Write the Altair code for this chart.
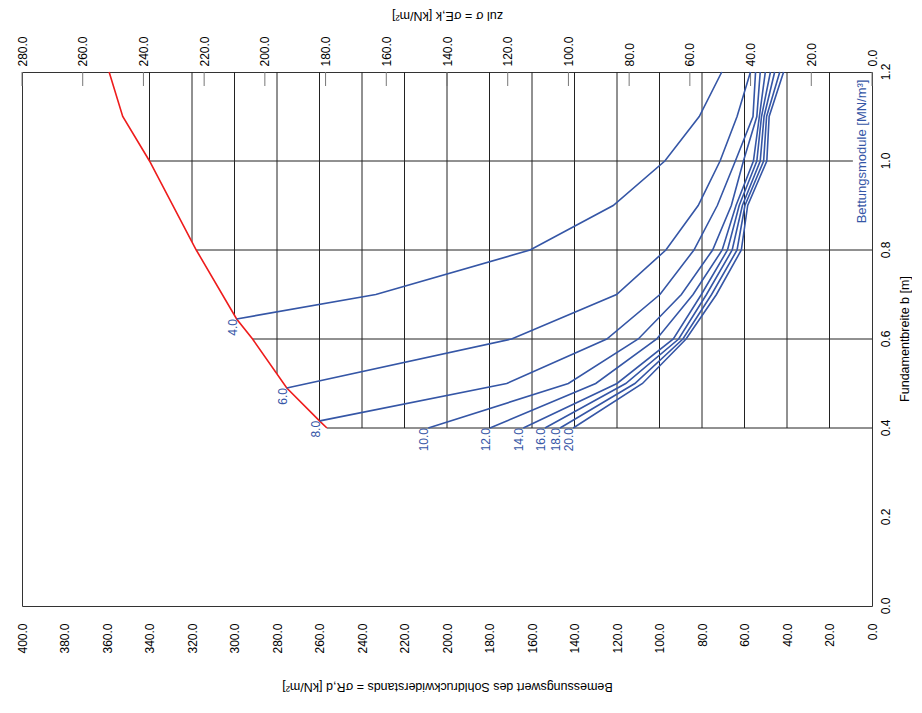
import altair as alt
import pandas as pd
import numpy as np

# ---------------- data ----------------
# red limit curve: Fundamentbreite b [m] vs sigma_R,d [kN/m2]
red_b = [1.2, 1.1, 1.0, 0.8, 0.645, 0.6, 0.49, 0.416, 0.4]
red_s = [359.0, 352.6, 340.0, 318.0, 299.0, 291.5, 275.4, 260.0, 256.5]

# blue curves (Bettungsmodul in MN/m3)
k_labels = ["4.0", "6.0", "8.0", "10.0", "12.0", "14.0", "16.0", "18.0", "20.0"]
b_k4 = [0.645, 0.7, 0.8, 0.9, 1.0, 1.1, 1.2]
s_k4 = [299.0, 233.5, 160.9, 121.8, 97.5, 81.3, 70.7]
b_k6 = [0.49, 0.6, 0.7, 0.8, 0.9, 1.0, 1.1, 1.2]
s_k6 = [275.4, 169.6, 120.2, 97.0, 81.8, 71.5, 63.5, 57.2]
b_k8 = [0.416, 0.5, 0.6, 0.7, 0.8, 0.9, 1.0, 1.1, 1.2]
s_k8 = [259.8, 171.9, 124.8, 99.8, 83.8, 72.8, 64.3, 56.0, 54.8]
b_std = [0.4, 0.5, 0.6, 0.7, 0.8, 0.9, 1.0, 1.1, 1.2]
s_k10 = [208.8, 142.9, 110.0, 89.7, 75.0, 66.2, 60.5, 54.2, 52.6]
s_k12 = [179.8, 130.0, 101.3, 84.2, 70.5, 64.0, 55.8, 53.0, 50.2]
s_k14 = [164.1, 120.0, 93.5, 80.3, 68.0, 62.5, 54.2, 52.0, 47.8]
s_k16 = [153.9, 115.9, 91.0, 77.9, 65.8, 61.0, 52.6, 50.8, 45.8]
s_k18 = [146.8, 111.6, 89.0, 75.5, 63.5, 59.8, 51.0, 49.6, 43.4]
s_k20 = [140.6, 108.0, 87.5, 73.2, 61.5, 58.5, 49.5, 48.4, 41.6]

# axes
bottom_ticks = list(range(0, 401, 20))
top_ticks = list(range(0, 281, 20))          # zul sigma = 0.7 * sigma_R,d
right_ticks = [0.0, 0.2, 0.4, 0.6, 0.8, 1.0, 1.2]
grid_s = list(range(20, 341, 20))            # vertical grid lines (sigma_R,d)
grid_b = [0.4, 0.6, 0.8, 1.0]                # horizontal grid lines (b)

# ---------------- tables ----------------
curves = [
    ("4.0", b_k4, s_k4), ("6.0", b_k6, s_k6), ("8.0", b_k8, s_k8),
    ("10.0", b_std, s_k10), ("12.0", b_std, s_k12), ("14.0", b_std, s_k14),
    ("16.0", b_std, s_k16), ("18.0", b_std, s_k18), ("20.0", b_std, s_k20),
]
rows = []
for k, bb, ss in curves:
    for b, s in zip(bb, ss):
        rows.append({"k": k, "b": b, "s": s})
blue_df = pd.DataFrame(rows)
lab_df = pd.DataFrame([{"k": k, "b": bb[0], "s": ss[0]} for k, bb, ss in curves])
red_df = pd.DataFrame({"b": red_b, "s": red_s})

rb = np.array(red_b[::-1]); rs = np.array(red_s[::-1])
v_rows = []
for s in grid_s:
    if s >= rs.max():
        continue
    b_low = max(0.4, float(np.interp(s, rs, rb)))
    v_rows.append({"s": s, "b0": b_low, "b1": 1.2})
vgrid_df = pd.DataFrame(v_rows)
h_rows = []
for b in grid_b:
    s_left = float(np.interp(b, rb, rs))
    s_right = 9.0 if b == 1.0 else 0.0
    h_rows.append({"b": b, "s0": s_left, "s1": s_right})
hgrid_df = pd.DataFrame(h_rows)
tick_df = pd.DataFrame({"s": [round(t / 0.7, 6) for t in top_ticks]})
right_df = pd.DataFrame({"b": right_ticks, "t": [f"{v:.1f}" for v in right_ticks]})
note_df = pd.DataFrame({"s": [3.0], "b": [0.86], "t": ["Bettungsmodule [MN/m³]"]})
rtitle_df = pd.DataFrame({"t": ["Fundamentbreite b [m]"]})

# ---------------- chart ----------------
FONT = "Liberation Sans"
BLUE = "#3556a6"
RED = "#ee1c1c"
W, H = 850, 534
xs = alt.Scale(domain=[0, 400], reverse=True, nice=False, zero=False)
ys = alt.Scale(domain=[0, 1.2], nice=False, zero=False)

vgrid = alt.Chart(vgrid_df).mark_rule(color="#222", strokeWidth=1).encode(
    x=alt.X("s:Q", scale=xs, axis=alt.Axis(
        orient="bottom", values=bottom_ticks, format=".1f", labelAngle=270,
        labelAlign="right", labelBaseline="middle", labelPadding=17,
        ticks=False, domain=False, grid=False,
        title="Bemessungswert des Sohldruckwiderstands = σR,d [kN/m²]",
        titleAngle=180, titleBaseline="top", titleAlign="center",
        titleX=425, titleY=86)),
    y=alt.Y("b0:Q", scale=ys, axis=None),
    y2="b1:Q",
)

hgrid = alt.Chart(hgrid_df).mark_rule(color="#222", strokeWidth=1).encode(
    x=alt.X("s0:Q", scale=xs, axis=None),
    x2="s1:Q",
    y=alt.Y("b:Q", scale=ys, axis=None),
)

topticks = alt.Chart(tick_df).mark_rule(color="#777", strokeWidth=1).encode(
    x=alt.X("s:Q", scale=xs, axis=alt.Axis(
        orient="top", values=[round(t / 0.7, 6) for t in top_ticks],
        labelExpr="format(datum.value * 0.7, '.1f')", labelAngle=270,
        labelAlign="left", labelBaseline="middle", labelPadding=6,
        ticks=False, domain=False, grid=False,
        title="zul σ = σE,k [kN/m²]", titleAngle=180, titleBaseline="top",
        titleAlign="center", titleX=425, titleY=-51)),
    y=alt.value(0),
    y2=alt.value(14),
)

# right-hand axis (b) drawn as text marks placed through the y scale
right_labels = alt.Chart(right_df).mark_text(
    angle=270, align="center", baseline="top", font=FONT, fontSize=12, color="#000",
).encode(
    x=alt.value(W + 9),
    y=alt.Y("b:Q", scale=ys, axis=None),
    text="t:N",
)
right_title = alt.Chart(rtitle_df).mark_text(
    angle=270, align="center", baseline="bottom", font=FONT, fontSize=12.5, color="#000",
).encode(
    x=alt.value(W + 40),
    y=alt.value(H / 2),
    text="t:N",
)

red_line = alt.Chart(red_df).mark_line(color=RED, strokeWidth=1.6).encode(
    x=alt.X("s:Q", scale=xs, axis=None),
    y=alt.Y("b:Q", scale=ys, axis=None),
    order="b:Q",
)

blue_lines = alt.Chart(blue_df).mark_line(color=BLUE, strokeWidth=1.6).encode(
    x=alt.X("s:Q", scale=xs, axis=None),
    y=alt.Y("b:Q", scale=ys, axis=None),
    detail="k:N",
    order="b:Q",
)

labels = alt.Chart(lab_df).mark_text(
    angle=270, align="right", baseline="alphabetic", color=BLUE,
    font=FONT, fontSize=12,
).encode(
    x=alt.X("s:Q", scale=xs, axis=None),
    y=alt.Y("b:Q", scale=ys, axis=None),
    text="k:N",
)

note = alt.Chart(note_df).mark_text(
    angle=270, align="left", baseline="alphabetic", color=BLUE,
    font=FONT, fontSize=13,
).encode(
    x=alt.X("s:Q", scale=xs, axis=None),
    y=alt.Y("b:Q", scale=ys, axis=None),
    text="t:N",
)

chart = alt.layer(
    vgrid, hgrid, topticks, red_line, blue_lines, labels, note, right_labels, right_title
).resolve_axis(
    x="independent"
).properties(
    width=W, height=H,
    padding={"left": 7, "top": 0, "right": 0, "bottom": 5},
    background="white",
).configure_view(stroke="#333", strokeWidth=1).configure_axis(
    labelFont=FONT, labelFontSize=12, labelColor="#000",
    titleFont=FONT, titleFontSize=12.5, titleFontWeight="normal", titleColor="#000",
)

chart.save("out.html", embed_options={"renderer": "svg", "actions": False})
